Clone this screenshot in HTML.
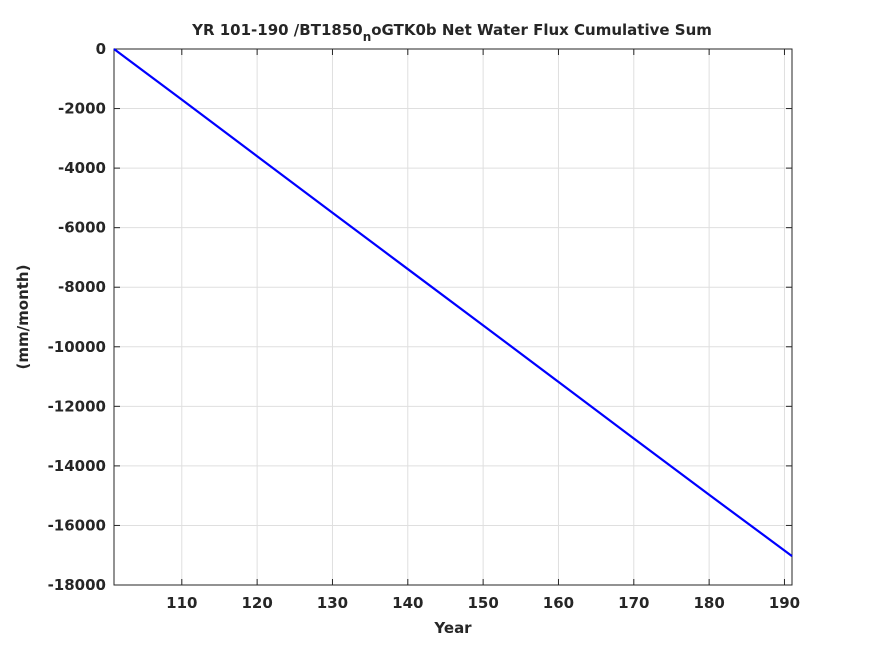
<!DOCTYPE html>
<html><head><meta charset="utf-8"><style>
html,body{margin:0;padding:0;background:#fff;}
svg text{font-family:"DejaVu Sans","Liberation Sans",sans-serif;font-weight:bold;fill:#262626;}
</style></head><body>
<svg id="chart" width="875" height="656" xmlns="http://www.w3.org/2000/svg">
<rect width="875" height="656" fill="#fff"/>
<text x="452" y="35" text-anchor="middle" font-size="15" fill="#000">YR 101-190 /BT1850<tspan dy="6" font-size="12">n</tspan><tspan dy="-6">oGTK0b Net Water Flux Cumulative Sum</tspan></text>
<g id="grid"></g>
<g id="axes"></g>
<g id="series"></g>
<text x="453" y="633" text-anchor="middle" font-size="15">Year</text>
<text transform="translate(28,317) rotate(-90)" text-anchor="middle" font-size="15">(mm/month)</text>
</svg>
<script>
const years = [101,110,120,130,140,150,160,170,180,191];
const fluxCumSum = [0,-1700,-3600,-5500,-7390,-9280,-11180,-13080,-14970,-17030];
const xTicks = [110,120,130,140,150,160,170,180,190];
const yTicks = [0,-2000,-4000,-6000,-8000,-10000,-12000,-14000,-16000,-18000];
const xMin=101,xMax=191,yMin=-18000,yMax=0;
const L=114,R=792,T=49,B=585;
const sx=v=>L+(v-xMin)/(xMax-xMin)*(R-L);
const sy=v=>T+(yMax-v)/(yMax-yMin)*(B-T);
const NS="http://www.w3.org/2000/svg";
function mk(tag,attrs,parent){const e=document.createElementNS(NS,tag);for(const k in attrs)e.setAttribute(k,attrs[k]);parent.appendChild(e);return e;}
const grid=document.getElementById('grid'),axes=document.getElementById('axes'),series=document.getElementById('series');
xTicks.forEach(t=>{
  const g=mk('line',{x1:sx(t),x2:sx(t),y1:T,y2:B,stroke:'#dfdfdf','stroke-width':1},grid);
  
  
  mk('line',{x1:sx(t),x2:sx(t),y1:B,y2:B-6,stroke:'#262626'},axes);
  mk('line',{x1:sx(t),x2:sx(t),y1:T,y2:T+6,stroke:'#262626'},axes);
  const tx=mk('text',{x:sx(t),y:B+23,'text-anchor':'middle','font-size':'15'},axes);
  tx.textContent=t;
  
  
});
yTicks.forEach(t=>{
  const g=mk('line',{x1:L,x2:R,y1:sy(t),y2:sy(t),stroke:'#dfdfdf','stroke-width':1},grid);
  
  
  mk('line',{x1:L,x2:L+6,y1:sy(t),y2:sy(t),stroke:'#262626'},axes);
  mk('line',{x1:R,x2:R-6,y1:sy(t),y2:sy(t),stroke:'#262626'},axes);
  const tx=mk('text',{x:L-8,y:sy(t)+5,'text-anchor':'end','font-size':'15'},axes);
  tx.textContent=t;
  
  
});
const box=mk('rect',{x:L,y:T,width:R-L,height:B-T,fill:'none',stroke:'#262626','stroke-width':1},axes);


const pts=years.map((y,i)=>sx(y)+','+sy(fluxCumSum[i])).join(' ');
const line=mk('polyline',{points:pts,fill:'none',stroke:'#0000ff','stroke-width':2.2},series);


</script>
</body></html>
